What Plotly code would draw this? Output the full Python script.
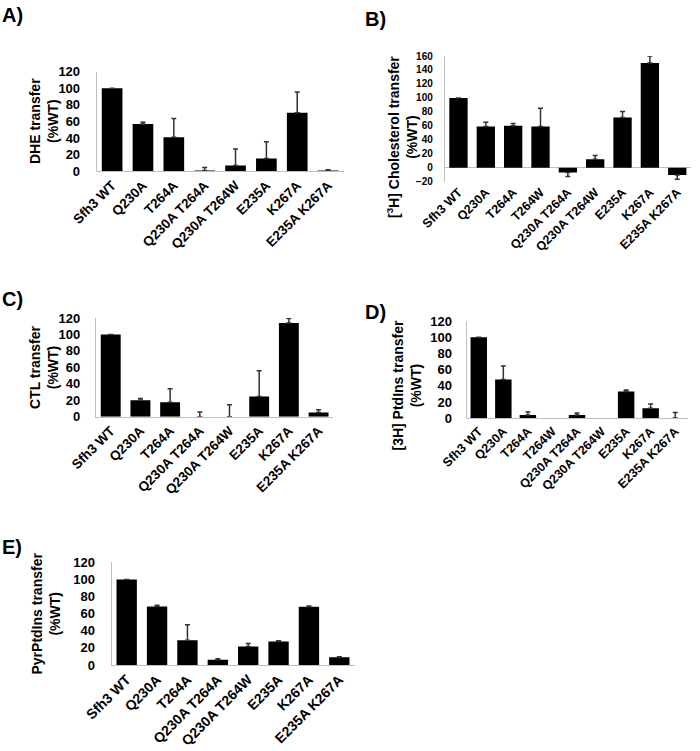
import plotly.graph_objects as go

W, H = 700, 751

# ---------------- data ----------------
cats8 = ["Sfh3 WT", "Q230A", "T264A", "Q230A T264A", "Q230A T264W", "E235A", "K267A", "E235A K267A"]
cats9 = ["Sfh3 WT", "Q230A", "T264A", "T264W", "Q230A T264A", "Q230A T264W", "E235A", "K267A", "E235A K267A"]

# A) DHE transfer (%WT)
a_vals = [100, 57, 41, 1, 7, 15.5, 70.5, 1]
a_err_up = [None, 2, 22.5, 3.5, 20, 20, 25, 1]
a_err_dn = [None, 0, 0, 0, 0, 0, 0, 0]

# B) [3H] Cholesterol transfer (%WT)
b_vals = [100, 59, 60, 59, -7, 12, 72, 150, -10.5]
b_err_up = [None, 6, 3.5, 26, 0, 5.5, 8.5, 10, 0]
b_err_dn = [None, 0, 0, 0, 5.7, 0, 0, 0, 6]

# C) CTL transfer (%WT)
c_vals = [100, 20, 17.5, 0, 0, 24.5, 114, 5]
c_err_up = [None, 2, 16.5, 5.7, 14.6, 31.5, 5.5, 3.5]
c_err_dn = [None, 0, 0, 0, 0, 0, 0, 0]

# D) [3H] PtdIns transfer (%WT)
d_vals = [100, 48, 4, None, 4, None, 33, 12.5, 0.5]
d_err_up = [None, 16.5, 3.8, None, 2.6, None, 2, 5.2, 6.5]
d_err_dn = [None, 0, 0, None, 0, None, 0, 0, 0]

# E) PyrPtdIns transfer (%WT)
e_vals = [100, 68.5, 29, 6, 21.5, 27.5, 68, 9]
e_err_up = [None, 1.2, 18, 1.4, 3.5, 0.9, 1, 0.5]
e_err_dn = [None, 0, 0, 0, 0, 0, 0, 0]

ticks_0_120 = [0, 20, 40, 60, 80, 100, 120]
ticks_b = [-20, 0, 20, 40, 60, 80, 100, 120, 140, 160]

FONT = "Arial, Liberation Sans, sans-serif"

panels = [
    dict(cats=cats8, vals=a_vals, up=a_err_up, dn=a_err_dn, x0=96.7, x1=343.5, yb=171.3, yt=71.7,
         yr=[0, 120], tv=ticks_0_120, tf=13, xf=13.5,
         title="DHE transfer<br>(%WT)", tx=44, ty=121, tsize=14,
         letter="A)", lx=0, ly=2, so=13),
    dict(cats=cats9, vals=b_vals, up=b_err_up, dn=b_err_dn, x0=444.8, x1=690.9, yb=181.7, yt=56.0,
         yr=[-20, 160], tv=ticks_b, tf=10, xf=12.5,
         title="[<sup>3</sup>H] Cholesterol transfer<br>(%WT)", tx=402, ty=137, tsize=14,
         letter="B)", lx=363, ly=6, so=9),
    dict(cats=cats8, vals=c_vals, up=c_err_up, dn=c_err_dn, x0=95.9, x1=333.4, yb=416.7, yt=318.0,
         yr=[0, 120], tv=ticks_0_120, tf=13, xf=13.5,
         title="CTL transfer<br>(%WT)", tx=44, ty=367, tsize=14,
         letter="C)", lx=0, ly=286, so=12),
    dict(cats=cats9, vals=d_vals, up=d_err_up, dn=d_err_dn, x0=466.5, x1=687.5, yb=418.3, yt=321.0,
         yr=[0, 120], tv=ticks_0_120, tf=13, xf=12.5,
         title="[3H] PtdIns transfer<br>(%WT)", tx=406.5, ty=386, tsize=14,
         letter="D)", lx=363, ly=299, so=11),
    dict(cats=cats8, vals=e_vals, up=e_err_up, dn=e_err_dn, x0=111.5, x1=354.5, yb=665.0, yt=562.3,
         yr=[0, 120], tv=ticks_0_120, tf=13, xf=14,
         title="PyrPtdIns transfer<br>(%WT)", tx=45.5, ty=614, tsize=14,
         letter="E)", lx=0, ly=534, so=13),
]

fig = go.Figure()
annotations = []
layout = {}

for i, p in enumerate(panels, start=1):
    xa = "x" if i == 1 else f"x{i}"
    ya = "y" if i == 1 else f"y{i}"
    fig.add_trace(go.Bar(
        x=p["cats"], y=p["vals"], xaxis=xa, yaxis=ya,
        marker=dict(color="black", line=dict(width=0)),
        error_y=dict(type="data", symmetric=False, array=p["up"], arrayminus=p["dn"],
                     color="#333333", thickness=1.5, width=2.5),
        showlegend=False, hoverinfo="skip",
    ))
    xkey = "xaxis" if i == 1 else f"xaxis{i}"
    ykey = "yaxis" if i == 1 else f"yaxis{i}"
    has_neg = p["yr"][0] < 0
    layout[xkey] = dict(
        domain=[p["x0"] / W, p["x1"] / W], anchor=ya,
        type="category", tickangle=-45, automargin=False,
        tickfont=dict(family=FONT, size=p["xf"], color="black", weight="bold"),
        showline=not has_neg, linecolor="#bfbfbf", linewidth=1,
        showgrid=False, zeroline=False, ticks="", fixedrange=True,
    )
    layout[ykey] = dict(
        domain=[1 - p["yb"] / H, 1 - p["yt"] / H], anchor=xa, automargin=False,
        range=p["yr"], tickvals=p["tv"],
        tickfont=dict(family=FONT, size=p["tf"], color="black", weight="bold"),
        showline=True, linecolor="#bfbfbf", linewidth=1,
        showgrid=False, zeroline=has_neg, zerolinecolor="#bfbfbf", zerolinewidth=1,
        ticks="", ticklabelstandoff=p["so"], fixedrange=True,
    )
    annotations.append(dict(
        text=p["title"], textangle=-90, x=p["tx"] / W, y=1 - p["ty"] / H,
        xref="paper", yref="paper", xanchor="center", yanchor="middle",
        showarrow=False, font=dict(family=FONT, size=p["tsize"], color="black", weight="bold"),
    ))
    annotations.append(dict(
        text=p["letter"], x=p["lx"] / W, y=1 - p["ly"] / H,
        xref="paper", yref="paper", xanchor="left", yanchor="top",
        showarrow=False, font=dict(family=FONT, size=20, color="black", weight="bold"),
    ))

fig.update_layout(**layout)
fig.update_layout(
    width=W, height=H, margin=dict(l=0, r=0, t=0, b=0, autoexpand=False),
    paper_bgcolor="white", plot_bgcolor="white",
    bargap=0.33, annotations=annotations, showlegend=False,
)
fig.write_html("out.html", config={"displayModeBar": False, "staticPlot": True},
               post_script="document.body.style.margin='0';")
